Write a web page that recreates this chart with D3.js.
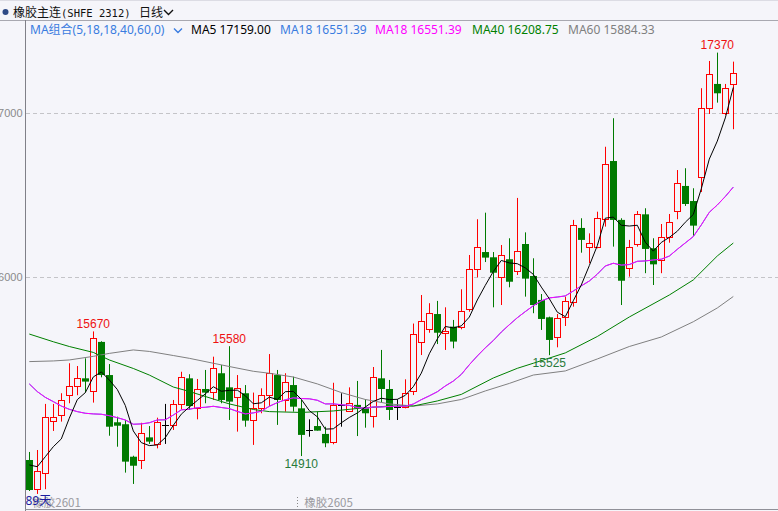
<!DOCTYPE html>
<html><head><meta charset="utf-8">
<script src="https://cdn.jsdelivr.net/npm/d3@7"></script>
<style>html,body{margin:0;padding:0;background:#f5f5fa;overflow:hidden}</style>
</head><body>
<svg id="c" width="778" height="511"></svg>
<script>
// ---- data ----
const opens = [14886,14708,14805,15124,15159,15281,15337,15384,15307,15606,15404,15116,15104,14906,14886,15024,14982,15098,15098,15226,15384,15201,15319,15303,15415,15329,15272,15293,15130,15201,15281,15404,15252,15343,15201,15069,15093,15045,14994,15222,15183,15222,15201,15157,15384,15319,15209,15209,15305,15604,15683,15776,15662,15699,15699,15805,16049,16154,16122,16000,16110,16040,16203,16008,15862,15756,15638,15756,15851,16301,16183,16183,16354,16709,16350,16055,16201,16384,16177,16106,16244,16404,16557,16465,16610,17031,17179,17004,17179];
const highs = [14935,14947,15228,15228,15293,15476,15459,15506,15670,15610,15471,15150,15130,14912,15113,15093,15144,15228,15252,15424,15409,15380,15435,15516,15465,15580,15404,15343,15297,15323,15532,15435,15415,15394,15252,15134,15181,15089,15357,15293,15329,15368,15256,15453,15557,15374,15256,15378,15718,15892,15842,15856,15817,15740,15927,16136,16354,16394,16154,16197,16238,16484,16274,16116,15898,15760,15776,15882,16350,16360,16268,16400,16796,16970,16360,16228,16404,16421,16238,16325,16386,16654,16665,16543,17153,17319,17370,17179,17315];
const lows = [14697,14679,14708,15063,15120,15232,15281,15297,15236,15390,15034,14967,14809,14740,14831,14984,14957,14984,15069,15195,15191,15134,15232,15252,15232,15130,15059,15089,14978,15171,15215,15100,15181,15181,14910,15028,15065,14964,14982,15089,15181,15032,15083,15084,15238,15130,15130,15201,15282,15526,15662,15593,15557,15567,15683,15790,16000,16093,15817,15831,15939,16014,15882,15781,15679,15525,15573,15703,15821,16150,16086,16177,16309,16187,15831,16004,16187,16025,15953,16025,16211,16354,16435,16252,16520,16996,17065,16990,16903];
const closes = [14703,14819,15150,15150,15250,15336,15384,15364,15628,15404,15089,15095,14876,14851,15049,14998,15116,15098,15226,15390,15215,15317,15297,15445,15252,15242,15323,15126,15201,15281,15415,15252,15364,15211,15039,15069,15065,14988,15220,15222,15232,15201,15171,15390,15319,15191,15209,15293,15653,15732,15781,15662,15673,15608,15795,16049,16183,16120,16028,16134,15973,16160,15992,15831,15746,15618,15750,15854,16317,16228,16207,16360,16691,16350,15979,16183,16384,16173,16079,16244,16336,16573,16447,16315,17031,17238,17122,17153,17244];

// moving-average values that depend on bars before the visible window
const ma5Head  = [14856,14845,14906,14967];
const ma18Head = [15350,15303,15268,15242,15215,15195,15181,15171,15167,15165,15156,15144,15130,15104,15106,15113,15130];
const ma40Idx = [0,3,5,8,10,13,15,18,20,23,25,28,30,34,38,41,45,48,51,54,58,61,63,67,71,75,80,83,86,88];
const ma40Val = [15654,15607,15578,15542,15496,15444,15404,15331,15304,15258,15228,15194,15181,15176,15185,15200,15215,15215,15246,15286,15386,15445,15476,15539,15639,15758,15892,15984,16130,16209];
const ma60Idx = [0,3,5,8,10,13,15,18,20,23,25,28,30,33,36,39,42,45,48,51,54,57,60,63,67,71,75,79,83,86,88];
const ma60Val = [15486,15490,15496,15518,15536,15557,15548,15523,15506,15476,15456,15427,15415,15392,15350,15297,15255,15228,15215,15228,15255,15307,15353,15404,15429,15502,15578,15636,15729,15813,15883];

const yTicks = [16000, 17000];
const xLabelIdx = [0, 34];
const xLabelText = ["橡胶2601", "橡胶2605"];
const hiIdx = [8, 25, 86], hiVal = [15670, 15580, 17370];
const loIdx = [34, 65], loVal = [14910, 15525];
const legendNames  = ["MA5", "MA18", "MA18", "MA40", "MA60"];
const legendValues = ["17159.00", "16551.39", "16551.39", "16208.75", "15884.33"];
const legendColors = ["#000000", "#3a7ce0", "#ff00ff", "#008000", "#808080"];
const legendX = [191, 280, 375, 472, 568];
const dayCount = "89天";

// ---- scales ----
const svg = d3.select('#c');
const W = 778, H = 511;
const x = d3.scaleLinear().domain([0, 88]).range([29.3, 733.3]);
const y = d3.scaleLinear().domain([16000, 17000]).range([277.3, 113.3]);
const RED = "#ff0000", GREEN = "#007a00";
const ry = v => Math.round(y(v)) + 0.5;

svg.append('rect').attr('width', W).attr('height', H).attr('fill', '#f5f5fa');

// header
svg.append('line').attr('x1',0).attr('x2',W).attr('y1',0.5).attr('y2',0.5).attr('stroke','#dcdce4');
svg.append('line').attr('x1',0).attr('x2',W).attr('y1',20.5).attr('y2',20.5).attr('stroke','#a8a8b0');
svg.append('circle').attr('cx',5.5).attr('cy',12).attr('r',3).attr('fill','#2e4a86');
const ht = svg.append('text').attr('x',13).attr('y',16.5).attr('font-size',12).attr('fill','#111')
  .attr('font-family','"Noto Sans CJK SC", sans-serif');
ht.append('tspan').text('橡胶主连');
ht.append('tspan').attr('font-family','"DejaVu Sans Mono", monospace').attr('font-size',10.5).text('(SHFE 2312)');
svg.append('text').attr('x',139).attr('y',16.5).attr('font-size',12).attr('fill','#111')
  .attr('font-family','"Noto Sans CJK SC", sans-serif').text('日线');
svg.append('path').attr('d','M164,10 L168.5,14.5 L173,10').attr('fill','none').attr('stroke','#111').attr('stroke-width',1.4);

// legend
svg.append('text').attr('x',30).attr('y',33.5).attr('font-size',12).attr('fill','#3a7ce0')
  .attr('font-family','"Noto Sans", "Noto Sans CJK SC", sans-serif').text('MA组合(5,18,18,40,60,0)');
svg.append('path').attr('d','M174,28.5 L178,32.5 L182,28.5').attr('fill','none').attr('stroke','#3a7ce0').attr('stroke-width',1.4);
legendNames.forEach((n, k) => {
  svg.append('text').attr('x', legendX[k]).attr('y', 33.5).attr('font-size', 12)
    .attr('font-family','"Noto Sans", sans-serif').attr('fill', legendColors[k])
    .text(n + ' ' + legendValues[k]);
});

// grid + y axis
const grid = svg.append('g');
yTicks.forEach(v => {
  grid.append('line').attr('x1',26).attr('x2',W).attr('y1',ry(v)).attr('y2',ry(v))
    .attr('stroke','#c4c4c8').attr('stroke-dasharray','4,3');
});
const ax = svg.append('g').attr('transform','translate(25.5,0)')
  .call(d3.axisLeft(y).tickValues(yTicks).tickSize(0).tickPadding(3).tickFormat(d3.format('d')));
ax.select('.domain').remove();
ax.selectAll('text').attr('font-size',11).attr('font-family','"Liberation Sans", Arial, sans-serif').attr('fill','#8a8a8a');

svg.append('line').attr('x1',25.5).attr('x2',25.5).attr('y1',20).attr('y2',H).attr('stroke','#808088');
svg.append('line').attr('x1',25).attr('x2',W).attr('y1',509.5).attr('y2',509.5).attr('stroke','#909098');

// candles
const cg = svg.append('g');
closes.forEach((c, i) => {
  const o = opens[i], hi = highs[i], lo = lows[i];
  const cx = Math.floor(x(i));
  const wx = cx + 0.5;
  if (c > o) {
    cg.append('line').attr('x1',wx).attr('x2',wx).attr('y1',y(hi)).attr('y2',ry(c)).attr('stroke',RED);
    cg.append('line').attr('x1',wx).attr('x2',wx).attr('y1',ry(o)).attr('y2',y(lo)).attr('stroke',RED);
    cg.append('rect').attr('x',cx-2.5).attr('y',ry(c)).attr('width',6).attr('height',Math.max(1,ry(o)-ry(c)))
      .attr('fill','#f5f5fa').attr('stroke',RED);
  } else if (c < o) {
    cg.append('line').attr('x1',wx).attr('x2',wx).attr('y1',y(hi)).attr('y2',y(lo)).attr('stroke',GREEN);
    cg.append('rect').attr('x',cx-3).attr('y',y(o)).attr('width',7).attr('height',Math.max(1,y(c)-y(o)))
      .attr('fill',GREEN);
  } else {
    cg.append('line').attr('x1',wx).attr('x2',wx).attr('y1',y(hi)).attr('y2',y(lo)).attr('stroke','#000');
    cg.append('line').attr('x1',cx-3).attr('x2',cx+4).attr('y1',ry(o)).attr('y2',ry(o)).attr('stroke','#000');
  }
});

// moving averages
const ma5 = closes.map((c, i) => i < 4 ? ma5Head[i] : d3.mean(closes.slice(i-4, i+1)));
const ma18 = closes.map((c, i) => i < 17 ? ma18Head[i] : d3.mean(closes.slice(i-17, i+1)));
const line = d3.line().x(d => x(d[0])).y(d => y(d[1]));
const lg = svg.append('g').attr('fill','none').attr('stroke-width',1);
lg.append('path').attr('d', line(ma60Idx.map((k, j) => [k, ma60Val[j]]))).attr('stroke','#808080');
lg.append('path').attr('d', line(ma40Idx.map((k, j) => [k, ma40Val[j]]))).attr('stroke','#008000');
lg.append('path').attr('d', line(ma18.map((v, i) => [i, v]))).attr('stroke','#3a7ce0');
lg.append('path').attr('d', line(ma18.map((v, i) => [i, v]))).attr('stroke','#ff00ff');
lg.append('path').attr('d', line(ma5.map((v, i) => [i, v]))).attr('stroke','#000');

// extreme labels
hiIdx.forEach((k, j) => {
  svg.append('text').attr('x', x(k)).attr('y', y(hiVal[j]) - 3.5).attr('text-anchor','middle')
    .attr('font-size',12).attr('font-family','"Liberation Sans", Arial, sans-serif').attr('fill','#ee1111').text(hiVal[j]);
});
loIdx.forEach((k, j) => {
  svg.append('text').attr('x', x(k)).attr('y', y(loVal[j]) + 12).attr('text-anchor','middle')
    .attr('font-size',12).attr('font-family','"Liberation Sans", Arial, sans-serif').attr('fill','#287a3a').text(loVal[j]);
});

// x labels
xLabelIdx.forEach((k, j) => {
  const tx = x(k) - 4;
  if (k > 0) {
    svg.append('line').attr('x1', Math.round(tx)+0.5).attr('x2', Math.round(tx)+0.5).attr('y1',497).attr('y2',509)
      .attr('stroke','#888').attr('stroke-dasharray','1,2');
  }
  svg.append('text').attr('x', tx + 7).attr('y', 506.5).attr('font-size',11.5)
    .attr('font-family','"Noto Sans CJK SC", sans-serif').attr('fill','#9a9aa0').text(xLabelText[j]);
});
svg.append('text').attr('x',25.5).attr('y',505).attr('font-size',12)
  .attr('font-family','"Noto Sans", "Noto Sans CJK SC", sans-serif').attr('fill','#1c1ca0').text(dayCount);
</script>
</body></html>
